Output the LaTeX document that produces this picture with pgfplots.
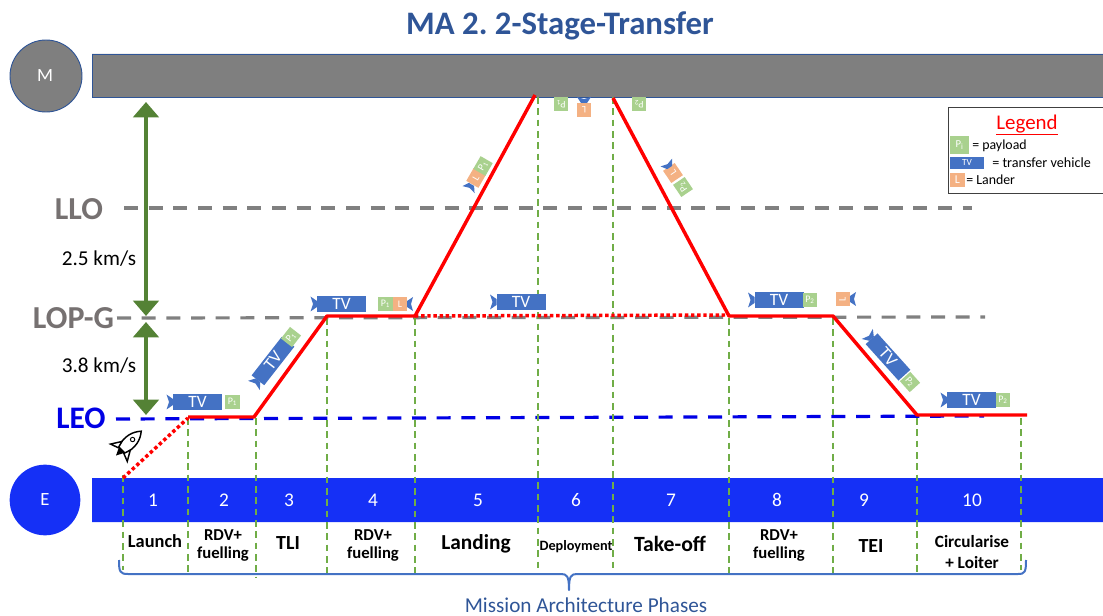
\documentclass[border=0pt]{standalone}
\usepackage{fontspec}
\setmainfont{Carlito}
\usepackage{pgfplots}
\pgfplotsset{compat=1.18}
\usetikzlibrary{arrows.meta}
\definecolor{tvb}{RGB}{68,114,196}
\definecolor{pg}{RGB}{169,209,142}
\definecolor{lo}{RGB}{244,177,131}
\definecolor{gbar}{RGB}{127,127,127}
\definecolor{ebar}{RGB}{21,48,246}
\definecolor{edge}{RGB}{47,85,151}
\definecolor{grn}{RGB}{84,130,53}
\definecolor{vgrn}{RGB}{112,173,71}
\definecolor{gtxt}{RGB}{118,113,113}
\newcommand{\fs}[1]{\fontsize{#1}{#1}\selectfont}
\frenchspacing
% icons, sizes in reference pixels
\newcommand{\Noz}[3]{\fill[tvb,shift={(axis cs:#1,#2)},rotate=#3,scale=.75]
  (3pt,-3pt)--(-3pt,-7pt)--(-1pt,0pt)--(-3pt,7pt)--(3pt,3pt)--cycle;}
\newcommand{\TV}[3]{%
  \fill[tvb,shift={(axis cs:#1,#2)},rotate=#3,scale=.75] (-24.5pt,-8pt) rectangle (24.5pt,8pt);
  \fill[tvb,shift={(axis cs:#1,#2)},rotate=#3,scale=.75]
    (-24.5pt,-3pt)--(-31pt,-7.5pt)--(-28.5pt,0pt)--(-31pt,7.5pt)--(-24.5pt,3pt)--cycle;
  \node[text=white,rotate=#3,inner sep=0pt,font=\fs{13}] at (axis cs:#1,#2) {TV};}
\newcommand{\Tag}[5]{\node[fill=#4,rotate=#3,minimum width=11pt,minimum height=10.5pt,inner sep=0pt,
  text=white,font=\fs{7.5}] at (axis cs:#1,#2) {#5};}
\begin{document}
\begin{tikzpicture}
\begin{axis}[scale only axis,width=827.25pt,height=462pt,hide axis,clip=false,
  xmin=0,xmax=1103,ymin=0,ymax=616,y dir=reverse]
\path[use as bounding box] (axis cs:0,0) rectangle (axis cs:1103,616);
% bodies
\addplot[fill=gbar,draw=edge,line width=.7pt] coordinates {(92,54)(1110,54)(1110,97)(92,97)(92,54)};
\addplot[fill=ebar,draw=none] coordinates {(92,478)(1110,478)(1110,522)(92,522)(92,478)};
\draw[fill=gbar,draw=edge,line width=.7pt] (axis cs:46,76) circle[radius=27pt];
\draw[fill=ebar,draw=none] (axis cs:45,500) circle[radius=26.5pt];
\node[text=white,font=\fs{14}] at (axis cs:45,76) {M};
\node[text=white,font=\fs{14}] at (axis cs:45,500) {E};
% orbit levels
\addplot[gray,line width=2.4pt,dash pattern=on 10.5pt off 8pt] coordinates {(124,208)(972,208)};
\addplot[gray,line width=2.4pt,dash pattern=on 10.5pt off 8pt] coordinates {(117,318)(985,317)};
\addplot[blue!90!black,line width=2.4pt,dash pattern=on 10.5pt off 8pt] coordinates {(116,419)(984,416)};
% phase separators
\foreach \x/\a/\b in {123/475/570,188/418/575,256/418/578,327/318/578,415/318/578,538/97/570,613/97/570,729/318/575,833/318/575,917/418/575,1021/418/570}{
  \edef\temp{\noexpand\addplot[vgrn,line width=1.1pt,dash pattern=on 5pt off 3.5pt] coordinates {(\x,\a)(\x,\b)};}\temp
}
% trajectory
\addplot[red,line width=2.6pt,dotted] coordinates {(123,478)(188,418)};
\addplot[red,line width=2.6pt,dotted] coordinates {(415,316)(729,315)};
\addplot[red,line width=2.6pt,line join=round] coordinates {(188,417)(254,417)(327,316)(415,316)(535,95)};
\addplot[red,line width=2.6pt,line join=round] coordinates {(613,98)(729,316)(833,316)(917,415)(1027,415)};
% delta v arrows
\addplot[grn,line width=3pt,{Triangle[width=19pt,length=11.5pt]}-{Triangle[width=19pt,length=11.5pt]}] coordinates {(146,102)(146,316)};
\addplot[grn,line width=3pt,{Triangle[width=19pt,length=11.5pt]}-{Triangle[width=19pt,length=11.5pt]}] coordinates {(146,322)(146,415)};
\node[font=\fs{15.9},text=black] at (axis cs:99,259) {2.5 km/s};
\node[font=\fs{15.9},text=black] at (axis cs:99,366) {3.8 km/s};
\node[font=\bfseries\fs{24},text=gtxt] at (axis cs:79,209) {LLO};
\node[font=\bfseries\fs{24},text=gtxt] at (axis cs:73.5,318) {LOP-G};
\node[font=\bfseries\fs{23.5},text=blue!90!black] at (axis cs:81,418) {LEO};
% vehicles
\TV{197.5}{402}{0}\Tag{232.5}{402}{0}{pg}{P\textsubscript{1}}
\TV{273}{361}{52}\Tag{291}{337}{52}{pg}{P\textsubscript{1}}
\TV{341.5}{304}{0}\Tag{385.5}{304}{0}{pg}{P\textsubscript{1}}\Tag{400}{304}{0}{lo}{L}\Noz{410}{304}{180}
\Tag{476}{178}{60}{lo}{L}\Tag{483}{166}{60}{pg}{P\textsubscript{1}}\Noz{470}{187}{60}
\Tag{561}{104.5}{180}{pg}{P\textsubscript{1}}\Tag{584}{110}{180}{lo}{L}\Noz{584}{100}{-90}
\Tag{639}{104.5}{180}{pg}{P\textsubscript{2}}
\Tag{673}{173}{124}{lo}{L}\Tag{683}{187}{124}{pg}{P\textsubscript{2}}\Noz{668}{165}{-56}
\TV{521}{302}{0}
\TV{779}{300}{0}\Tag{810}{300}{0}{pg}{P\textsubscript{2}}
\Tag{842.5}{299}{90}{lo}{L}\Noz{853}{299}{180}
\TV{888}{357}{-48}\Tag{910}{382}{-48}{pg}{P\textsubscript{2}}
\TV{971.5}{400}{0}\Tag{1003}{400}{0}{pg}{P\textsubscript{2}}
% rocket
\draw[fill=white,draw=black,line width=1.1pt,shift={(axis cs:129,443)},rotate=44,scale=.75]
  (-10pt,-5pt) .. controls (2pt,-8pt) and (10pt,-6pt) .. (17pt,0pt)
  .. controls (10pt,6pt) and (2pt,8pt) .. (-10pt,5pt) -- cycle;
\draw[fill=white,draw=black,line width=1.1pt,shift={(axis cs:129,443)},rotate=44,scale=.75]
  (-4pt,6pt)--(-14pt,12pt)--(-11pt,4pt)--cycle (-4pt,-6pt)--(-14pt,-12pt)--(-11pt,-4pt)--cycle;
\fill[black,shift={(axis cs:129,443)},rotate=44,scale=.75] (-10pt,-4pt)--(-18pt,0pt)--(-10pt,4pt)--cycle;
\draw[black,line width=.7pt,shift={(axis cs:129,443)},rotate=44,scale=.75] (5pt,0pt) circle[radius=2.2pt];
% phase numbers and names
\foreach \x/\n in {153/1,224/2,289/3,373/4,478/5,576/6,671/7,777/8,864/9,972/10}{
  \edef\temp{\noexpand\node[text=white,font=\noexpand\fs{14.5}] at (axis cs:\x,500) {\n};}\temp
}
\node[font=\bfseries\fs{13.8}] at (axis cs:155,541) {Launch};
\node[font=\bfseries\fs{12.5},align=center] at (axis cs:223,545.5) {RDV+\\[1.7pt]fuelling};
\node[font=\bfseries\fs{15}] at (axis cs:288,543) {TLI};
\node[font=\bfseries\fs{12.5},align=center] at (axis cs:373,545.5) {RDV+\\[1.7pt]fuelling};
\node[font=\bfseries\fs{16}] at (axis cs:476,544) {Landing};
\node[font=\bfseries\fs{10.7}] at (axis cs:576,547) {Deployment};
\node[font=\bfseries\fs{16.3}] at (axis cs:670,544) {Take-off};
\node[font=\bfseries\fs{12.5},align=center] at (axis cs:779,545.5) {RDV+\\[1.7pt]fuelling};
\node[font=\bfseries\fs{15}] at (axis cs:871,546) {TEI};
\node[font=\bfseries\fs{12.9},align=center] at (axis cs:972,552) {Circularise\\[2.2pt]+ Loiter};
% brace
\draw[tvb,line width=1.5pt,line join=round] (axis cs:119,560) .. controls (axis cs:119,572) and (axis cs:120,574) .. (axis cs:128,574)
  -- (axis cs:561,574) .. controls (axis cs:567,574) and (axis cs:569,576) .. (axis cs:569,590) .. controls (axis cs:569,576) and (axis cs:571,574) .. (axis cs:577,574)
  -- (axis cs:1018,574) .. controls (axis cs:1025,574) and (axis cs:1026,572) .. (axis cs:1026,560);
\node[text=edge,font=\fs{15.9}] at (axis cs:586,605) {Mission Architecture Phases};
\node[text=edge,font=\bfseries\fs{24.6}] at (axis cs:560,26) {MA 2. 2-Stage-Transfer};
% legend
\draw[black!75,line width=.7pt] (axis cs:1110,107) -- (axis cs:948,107) -- (axis cs:948,193) -- (axis cs:1110,193);
\node[text=red,font=\fs{15.7}] at (axis cs:1027,125) {\underline{Legend}};
\node[fill=pg,minimum width=14pt,minimum height=14pt,inner sep=0pt,text=white,font=\fs{8}] at (axis cs:959.5,145) {P\textsubscript{i}};
\node[fill=tvb,minimum width=26pt,minimum height=9.5pt,inner sep=0pt,text=white,font=\fs{7}] at (axis cs:967,163) {TV};
\node[fill=lo,minimum width=11pt,minimum height=10.5pt,inner sep=0pt,text=white,font=\fs{9}] at (axis cs:957.5,180) {L};
\node[anchor=west,inner sep=0pt,font=\fs{10.4}] at (axis cs:972,146) {= payload};
\node[anchor=west,inner sep=0pt,font=\fs{10.6}] at (axis cs:992,163) {= transfer vehicle};
\node[anchor=west,inner sep=0pt,font=\fs{10.4}] at (axis cs:966,180) {= Lander};
\end{axis}
\end{tikzpicture}
\end{document}
